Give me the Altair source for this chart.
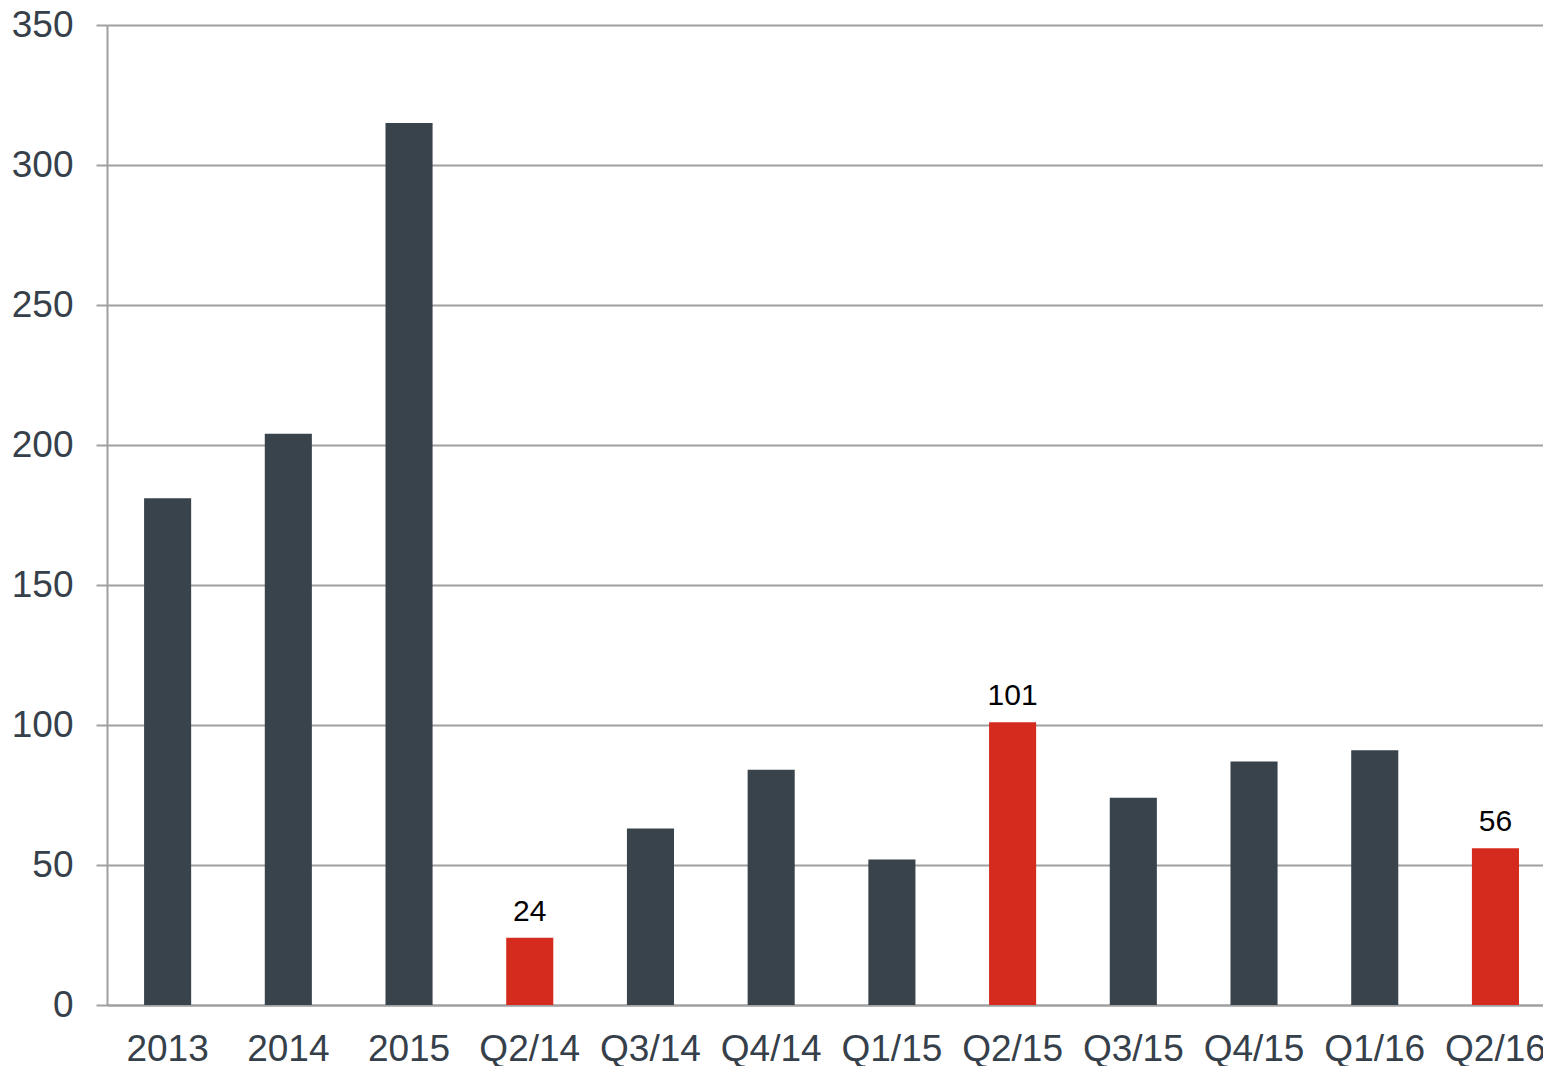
import altair as alt
import pandas as pd

# Periods and values (annual totals, then quarterly)
periods = ["2013", "2014", "2015", "Q2/14", "Q3/14", "Q4/14", "Q1/15",
           "Q2/15", "Q3/15", "Q4/15", "Q1/16", "Q2/16"]
values = [181, 204, 315, 24, 63, 84, 52, 101, 74, 87, 91, 56]
highlighted = ["Q2/14", "Q2/15", "Q2/16"]

df = pd.DataFrame({"period": periods, "value": values})
df["hl"] = df["period"].isin(highlighted)

DARK = "#39434c"
RED = "#d52b1e"
GRID = "#a0a0a0"
LABEL = "#36404a"
FONT = "Liberation Sans"

x = alt.X(
    "period:N", sort=periods, title=None,
    scale=alt.Scale(paddingInner=0.61, paddingOuter=0.253, align=0.607),
    axis=alt.Axis(labelAngle=0, labelFontSize=37, labelFont=FONT, labelColor=LABEL,
                  ticks=False, domainColor=GRID, domainWidth=2, labelPadding=26),
)
y = alt.Y(
    "value:Q", title=None,
    scale=alt.Scale(domain=[0, 350], nice=False),
    axis=alt.Axis(values=[0, 50, 100, 150, 200, 250, 300, 350], labelFontSize=37,
                  labelFont=FONT, labelColor=LABEL, tickSize=11, tickColor=GRID,
                  tickWidth=2, gridColor=GRID, gridWidth=2, domainColor=GRID,
                  domainWidth=2, labelPadding=23),
)

bars = alt.Chart(df).mark_bar().encode(
    x=x, y=y,
    color=alt.condition("datum.hl", alt.value(RED), alt.value(DARK)),
)

labels = alt.Chart(df).transform_filter("datum.hl").mark_text(
    baseline="alphabetic", dy=-17, fontSize=30, font=FONT, color="#000000"
).encode(x=alt.X("period:N", sort=periods), y="value:Q", text="value:Q")

chart = (bars + labels).properties(
    width=1436, height=980,
    autosize=alt.AutoSizeParams(type="none"),
    padding={"left": 107, "top": 25, "right": 0, "bottom": 61},
).configure_view(stroke=None).configure(background="white")

chart.save("out.html", embed_options={"renderer": "svg", "actions": False})
